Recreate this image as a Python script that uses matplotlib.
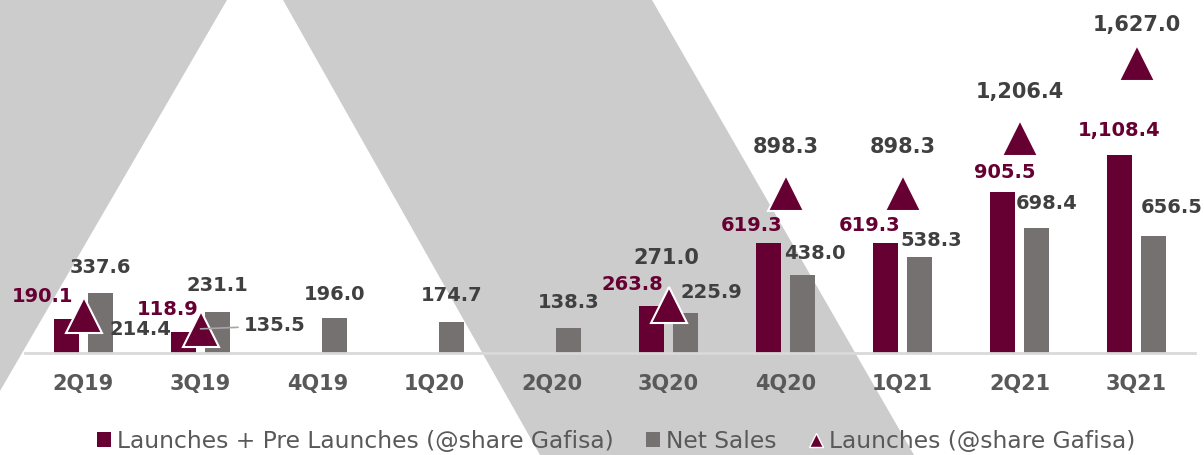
import numpy as np
import matplotlib
matplotlib.use('Agg')
from matplotlib import pyplot as plt
from matplotlib.patches import Polygon, Patch
from matplotlib.lines import Line2D

# Data
#------------------------------------------------------------------------------
quarters = ['2Q19', '3Q19', '4Q19', '1Q20', '2Q20',
            '3Q20', '4Q20', '1Q21', '2Q21', '3Q21']
launches_pre = [190.1, 118.9, np.nan, np.nan, np.nan,
                263.8, 619.3, 619.3, 905.5, 1108.4]
net_sales = [337.6, 231.1, 196.0, 174.7, 138.3,
             225.9, 438.0, 538.3, 698.4, 656.5]
launches = [214.4, 135.5, np.nan, np.nan, np.nan,
            271.0, 898.3, 898.3, 1206.4, 1627.0]
#------------------------------------------------------------------------------

# label offsets in pixels (dx, dy), hand placed like the original slide
pre_offsets = [(-24, 23), (-16, 22), None, None, None,
               (-19, 21), (-17, 17), (-16, 17), (2, 19), (0, 25)]
sales_offsets = [(0, 25), (0, 26), (0, 24), (0, 26), (0, 26),
                 (26, 20), (12, 21), (12, 17), (10, 25), (18, 28)]
launch_offsets = [(57, -15), (74, 3), None, None, None,
                  (-2, 47), (0, 46), (0, 46), (0, 46), (0, 38)]

MAROON = '#660033'
GREY_BAR = '#767171'
DARK_TXT = '#404040'
CAT_TXT = '#595959'
BG = '#cccccc'


def label(ax, x, y, off, color, size=14, leader=False):
    if off is None or np.isnan(y):
        return
    kw = {}
    if leader:
        kw['arrowprops'] = dict(arrowstyle='-', color='#a6a6a6', lw=1.2,
                                shrinkA=2, shrinkB=0)
    ax.annotate('{:,.1f}'.format(y), xy=(x, y), xytext=off,
                textcoords='offset pixels', ha='center', va='center',
                fontsize=size, fontweight='bold', color=color,
                annotation_clip=False, zorder=6, **kw)


def main():
    fig = plt.figure(figsize=(12.04, 4.55), dpi=100)

    # decorative background shapes
    #--------------------------------------------------------------------------
    bg = fig.add_axes([0, 0, 1, 1], zorder=0)
    bg.set_xlim(0, 1204)
    bg.set_ylim(455, 0)
    bg.axis('off')
    bg.add_patch(Polygon([(0, 0), (227, 0), (0, 391)], closed=True,
                         facecolor=BG, edgecolor='none'))
    bg.add_patch(Polygon([(283, 0), (652, 0), (914, 455), (540, 455)],
                         closed=True, facecolor=BG, edgecolor='none'))
    #--------------------------------------------------------------------------

    # Bars and markers
    #--------------------------------------------------------------------------
    ax = fig.add_axes([25 / 1204, 102 / 455, 1170 / 1204, 321 / 455], zorder=1)
    ax.set_facecolor('none')
    x = np.arange(len(quarters))
    off = 0.145
    w = 0.22
    ax.bar(x - off, launches_pre, width=w, color=MAROON, zorder=2)
    ax.bar(x + off, net_sales, width=w, color=GREY_BAR, zorder=2)
    ax.plot(x, launches, ls='none', marker='^', ms=26, mfc=MAROON,
            mec='white', mew=1.5, zorder=4, clip_on=False)

    for i in range(len(quarters)):
        label(ax, x[i] - off, launches_pre[i], pre_offsets[i], MAROON)
        label(ax, x[i] + off, net_sales[i], sales_offsets[i], DARK_TXT)
        big = launch_offsets[i] is not None and launch_offsets[i][1] > 20
        label(ax, x[i], launches[i], launch_offsets[i], DARK_TXT,
              size=15 if big else 14, leader=(i == 1))

    ax.set_xlim(-0.5, 9.5)
    ax.set_ylim(0, 1800)
    ax.set_yticks([])
    ax.set_xticks(x, quarters)
    ax.tick_params(axis='x', length=0, pad=15, labelsize=15,
                   labelcolor=CAT_TXT)
    for t in ax.get_xticklabels():
        t.set_fontweight('bold')
    for s in ['top', 'left', 'right']:
        ax.spines[s].set_visible(False)
    ax.spines['bottom'].set_color('#d9d9d9')
    ax.spines['bottom'].set_linewidth(2)
    #--------------------------------------------------------------------------

    # Legend
    #--------------------------------------------------------------------------
    handles = [Patch(facecolor=MAROON, edgecolor='none'),
               Patch(facecolor=GREY_BAR, edgecolor='none'),
               Line2D([], [], ls='none', marker='^', ms=10, mfc=MAROON,
                      mec='white', mew=1)]
    names = ['Launches + Pre Launches (@share Gafisa)', 'Net Sales',
             'Launches (@share Gafisa)']
    fig.legend(handles, names, loc='center', bbox_to_anchor=(0.512, 14 / 455),
               ncol=3, frameon=False, fontsize=16.8, labelcolor=CAT_TXT,
               handlelength=0.6, handleheight=0.6, handletextpad=0.25,
               columnspacing=1.4, borderpad=0)
    #--------------------------------------------------------------------------

    fig.savefig('out.png', dpi=100)


if __name__ == "__main__":
    main()
